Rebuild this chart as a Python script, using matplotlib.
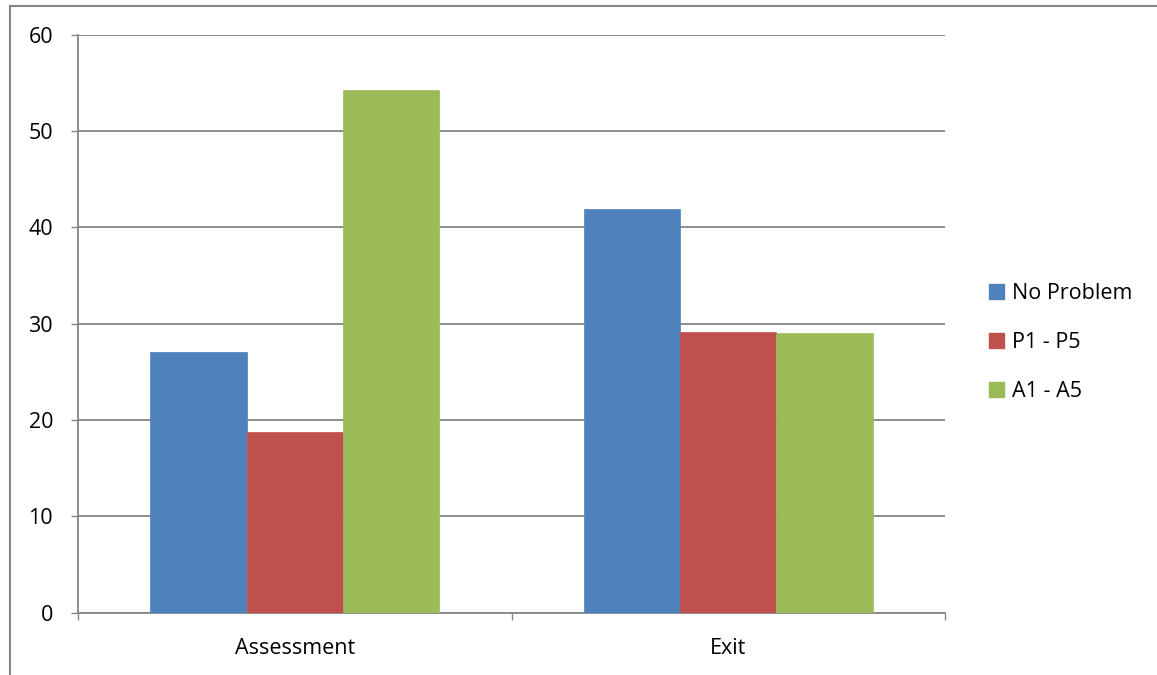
import matplotlib
matplotlib.use("Agg")
import matplotlib.pyplot as plt
from matplotlib.patches import Patch
from matplotlib.lines import Line2D
import numpy as np

plt.rcParams['font.family'] = ['Open Sans', 'DejaVu Sans']

categories = ["Assessment", "Exit"]
series_names = ["No Problem", "P1 - P5", "A1 - A5"]
no_problem = [27.1, 41.9]
p1_p5 = [18.8, 29.1]
a1_a5 = [54.3, 29.0]
colors = ["#4F81BD", "#C0504D", "#9BBB59"]
y_ticks = [0, 10, 20, 30, 40, 50, 60]

W, H = 1157, 675
fig = plt.figure(figsize=(W / 100, H / 100), dpi=100)
ax = fig.add_axes([78 / W, 1 - 612.6 / H, (945 - 78) / W, (612.6 - 34.7) / H])

grey = "#868686"
fs = 15.5
x = np.arange(len(categories))
bar_w = 2 / 3 / 3
for i, (vals, col) in enumerate(zip([no_problem, p1_p5, a1_a5], colors)):
    ax.bar(x + (i - 1) * bar_w, vals, width=bar_w, color=col, zorder=3,
           edgecolor=col, linewidth=0.5)

ax.set_xlim(-0.5, len(categories) - 0.5)
ax.set_ylim(0, 60)
ax.set_yticks(y_ticks)
ax.set_yticklabels([str(v) for v in y_ticks])
ax.yaxis.grid(True, color=grey, linewidth=1.3, zorder=0)
ax.set_axisbelow(True)

# category labels centred, tick marks at category boundaries
ax.set_xticks(x)
ax.set_xticklabels(categories)
ax.set_xticks(np.arange(-0.5, len(categories), 1.0), minor=True)
ax.tick_params(axis='x', which='major', length=0, labelsize=fs, pad=18.5)
ax.tick_params(axis='x', which='minor', length=5, width=1, color=grey, direction='out')
ax.tick_params(axis='y', length=5, width=1, color=grey, direction='out',
               labelsize=fs, pad=13)

for side in ['top', 'right']:
    ax.spines[side].set_visible(False)
for side in ['left', 'bottom']:
    ax.spines[side].set_color(grey)
    ax.spines[side].set_linewidth(1.3)

handles = [Patch(facecolor=c, edgecolor=c) for c in colors]
fig.legend(handles, series_names, loc='center left',
           bbox_to_anchor=(989 / W, 1 - 342.5 / H), frameon=False,
           fontsize=fs, handlelength=0.7, handleheight=0.7,
           handletextpad=0.35, labelspacing=1.3, borderaxespad=0, borderpad=0)

# outer chart frame (top and left edges)
fig.add_artist(Line2D([9.5 / W, 9.5 / W], [0, 1 - 5.5 / H], transform=fig.transFigure,
                      color=grey, linewidth=1.5))
fig.add_artist(Line2D([9.5 / W, 1], [1 - 5.5 / H, 1 - 5.5 / H], transform=fig.transFigure,
                      color=grey, linewidth=1.5))

fig.savefig("out.png", dpi=100)
